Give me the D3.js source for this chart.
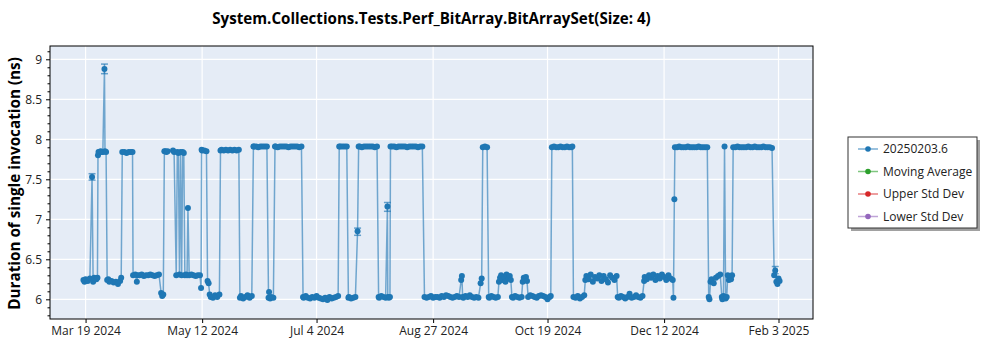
<!DOCTYPE html>
<html><head><meta charset="utf-8">
<script src="https://cdn.jsdelivr.net/npm/d3@7"></script>
<style>body{margin:0;background:#fff;} svg{display:block;font-family:"Open Sans","Noto Sans",sans-serif;}</style>
</head><body><svg id="c" width="1000" height="350"></svg>
<script>
const chartTitle = "System.Collections.Tests.Perf_BitArray.BitArraySet(Size: 4)";
const yTitle = "Duration of single invocation (ns)";
const legendNames = ["20250203.6", "Moving Average", "Upper Std Dev", "Lower Std Dev"];
const legendColors = ["#1f77b4", "#2ca02c", "#d62728", "#9467bd"];
const xTickDates = ["2024-03-19", "2024-05-12", "2024-07-04", "2024-08-27", "2024-10-19", "2024-12-12", "2025-02-03"];
const xTickLabels = ["Mar 19 2024", "May 12 2024", "Jul 4 2024", "Aug 27 2024", "Oct 19 2024", "Dec 12 2024", "Feb 3 2025"];
const yTicks = [6, 6.5, 7, 7.5, 8, 8.5, 9];
const yTickLabels = ["6", "6.5", "7", "7.5", "8", "8.5", "9"];

const dates = [
"2024-03-18","2024-03-18T12","2024-03-19","2024-03-20","2024-03-21","2024-03-22","2024-03-22T12","2024-03-23","2024-03-24","2024-03-24T12",
"2024-03-24T18","2024-03-25","2024-03-25T12","2024-03-26","2024-03-26T12","2024-03-27","2024-03-27T18","2024-03-28","2024-03-28T12",
"2024-03-29","2024-03-29T12","2024-03-30","2024-03-31","2024-04-01","2024-04-02","2024-04-03","2024-04-04","2024-04-04T12",
"2024-04-05","2024-04-06","2024-04-07","2024-04-08","2024-04-09","2024-04-09T18",
"2024-04-10","2024-04-11","2024-04-11T18","2024-04-12","2024-04-13","2024-04-14","2024-04-15","2024-04-16","2024-04-17","2024-04-18","2024-04-19","2024-04-20","2024-04-21","2024-04-22","2024-04-23","2024-04-23T12","2024-04-24",
"2024-04-24T12","2024-04-25","2024-04-25T12","2024-04-26","2024-04-28T12","2024-04-29","2024-04-30","2024-04-30T12","2024-05-01","2024-05-01T12","2024-05-02","2024-05-02T12","2024-05-03","2024-05-03T12",
"2024-05-04","2024-05-04T12","2024-05-05","2024-05-05T10","2024-05-06","2024-05-07","2024-05-08","2024-05-09","2024-05-10","2024-05-11","2024-05-11T12",
"2024-05-11T18","2024-05-12","2024-05-13","2024-05-14",
"2024-05-14T12","2024-05-15","2024-05-15T12","2024-05-16","2024-05-17","2024-05-18","2024-05-19","2024-05-20",
"2024-05-20T12","2024-05-21","2024-05-22","2024-05-23","2024-05-24","2024-05-25","2024-05-26","2024-05-27","2024-05-28","2024-05-29",
"2024-05-29T12","2024-05-30","2024-05-31","2024-06-01","2024-06-02","2024-06-03","2024-06-04",
"2024-06-04T18","2024-06-05","2024-06-06","2024-06-07","2024-06-08","2024-06-09","2024-06-10","2024-06-11",
"2024-06-11T18","2024-06-12","2024-06-12T12","2024-06-13","2024-06-14",
"2024-06-14T18","2024-06-15","2024-06-16","2024-06-17","2024-06-18","2024-06-19","2024-06-20","2024-06-21","2024-06-22","2024-06-23","2024-06-24","2024-06-25","2024-06-26","2024-06-27",
"2024-06-27T18","2024-06-28","2024-06-29","2024-06-30","2024-07-01","2024-07-02","2024-07-03","2024-07-04","2024-07-05","2024-07-06","2024-07-07","2024-07-08","2024-07-09","2024-07-10","2024-07-11","2024-07-12","2024-07-13","2024-07-14",
"2024-07-14T12","2024-07-15","2024-07-16","2024-07-17","2024-07-18",
"2024-07-18T18","2024-07-19","2024-07-20","2024-07-21","2024-07-22","2024-07-23",
"2024-07-23T12","2024-07-24","2024-07-25","2024-07-26","2024-07-27","2024-07-28","2024-07-29","2024-07-30","2024-07-31","2024-08-01",
"2024-08-01T18","2024-08-02","2024-08-03","2024-08-04","2024-08-05","2024-08-05T20","2024-08-06","2024-08-06T12","2024-08-07",
"2024-08-07T06","2024-08-08","2024-08-09","2024-08-10","2024-08-11","2024-08-12","2024-08-13","2024-08-14","2024-08-15","2024-08-16","2024-08-17","2024-08-18","2024-08-19","2024-08-20","2024-08-21","2024-08-22",
"2024-08-23","2024-08-24","2024-08-25","2024-08-26","2024-08-27","2024-08-28","2024-08-29","2024-08-30","2024-08-31","2024-09-01","2024-09-02","2024-09-03","2024-09-04","2024-09-05","2024-09-06","2024-09-07","2024-09-08","2024-09-09","2024-09-09T08","2024-09-09T16","2024-09-10","2024-09-11","2024-09-12","2024-09-13","2024-09-14","2024-09-15","2024-09-16","2024-09-17","2024-09-18","2024-09-18T12",
"2024-09-19","2024-09-20","2024-09-21",
"2024-09-21T18","2024-09-22","2024-09-23","2024-09-24","2024-09-25","2024-09-26",
"2024-09-26T12","2024-09-27","2024-09-27T12","2024-09-28","2024-09-29","2024-09-29T12","2024-09-30","2024-10-01","2024-10-01T12","2024-10-02",
"2024-10-02T12","2024-10-03","2024-10-04","2024-10-05","2024-10-06","2024-10-07",
"2024-10-07T12","2024-10-08","2024-10-08T12","2024-10-09","2024-10-09T12",
"2024-10-10","2024-10-11","2024-10-12","2024-10-13","2024-10-14","2024-10-15","2024-10-16","2024-10-17","2024-10-18","2024-10-19","2024-10-20","2024-10-20T12",
"2024-10-21","2024-10-22","2024-10-23","2024-10-24","2024-10-25","2024-10-26","2024-10-27","2024-10-28","2024-10-29","2024-10-30","2024-10-30T12",
"2024-10-31","2024-11-01","2024-11-02","2024-11-03","2024-11-04","2024-11-05",
"2024-11-05T12","2024-11-06","2024-11-07","2024-11-08","2024-11-09","2024-11-10","2024-11-11","2024-11-12","2024-11-13","2024-11-14","2024-11-15","2024-11-16","2024-11-17","2024-11-18","2024-11-19","2024-11-20",
"2024-11-20T12","2024-11-21","2024-11-22","2024-11-23","2024-11-24","2024-11-25","2024-11-26","2024-11-27","2024-11-28","2024-11-29","2024-11-30","2024-12-01","2024-12-02",
"2024-12-02T18","2024-12-03","2024-12-04","2024-12-05","2024-12-06","2024-12-07","2024-12-08","2024-12-09","2024-12-10","2024-12-11","2024-12-12","2024-12-13","2024-12-14","2024-12-15","2024-12-16",
"2024-12-16T08","2024-12-16T18",
"2024-12-17","2024-12-18","2024-12-19","2024-12-20","2024-12-21","2024-12-22","2024-12-23","2024-12-24","2024-12-25","2024-12-26","2024-12-27","2024-12-28","2024-12-29","2024-12-30","2024-12-31","2025-01-01",
"2025-01-01T16","2025-01-02",
"2025-01-02T12","2025-01-03","2025-01-04","2025-01-05","2025-01-06","2025-01-07",
"2025-01-07T18","2025-01-08","2025-01-08T12","2025-01-09","2025-01-09T12","2025-01-10",
"2025-01-10T12","2025-01-11","2025-01-11T12","2025-01-12","2025-01-12T12",
"2025-01-13","2025-01-14","2025-01-15","2025-01-16","2025-01-17","2025-01-18","2025-01-19","2025-01-20","2025-01-21","2025-01-22","2025-01-23","2025-01-24","2025-01-25","2025-01-26","2025-01-27","2025-01-28","2025-01-29","2025-01-30","2025-01-31",
"2025-02-01","2025-02-01T12","2025-02-02","2025-02-02T12","2025-02-03","2025-02-03T12"
];

const values = [
6.24,6.22,6.25,6.23,6.26,7.53,6.22,6.27,6.25,6.27,
7.80,7.84,7.84,7.85,7.84,7.84,8.88,7.85,7.84,
6.24,6.25,6.22,6.23,6.21,6.22,6.19,6.23,6.27,
7.84,7.84,7.83,7.84,7.84,7.84,
6.30,6.31,6.22,6.30,6.30,6.31,6.29,6.30,6.30,6.31,6.30,6.29,6.30,6.31,6.08,6.04,6.06,
7.85,7.85,7.84,7.85,7.86,7.84,6.30,7.84,7.83,6.31,7.84,6.30,7.84,7.83,
6.30,6.31,6.30,7.14,6.30,6.31,6.30,6.29,6.30,6.30,6.14,
7.87,7.86,7.86,7.85,
6.23,6.20,6.06,6.03,6.02,6.05,6.03,6.06,
7.86,7.87,7.86,7.87,7.86,7.87,7.86,7.87,7.86,7.87,
6.02,6.04,6.01,6.03,6.05,6.02,6.04,
7.91,7.91,7.91,7.90,7.91,7.91,7.91,7.91,
6.02,6.09,6.01,6.03,6.02,
7.91,7.91,7.90,7.91,7.91,7.91,7.91,7.90,7.91,7.91,7.91,7.91,7.90,7.91,
6.03,6.02,6.04,6.02,6.01,6.03,6.02,6.04,6.02,6.01,6.00,6.02,5.99,6.03,6.01,6.02,6.03,6.04,
7.91,7.91,7.91,7.91,7.91,
6.02,6.03,6.01,6.02,6.03,6.85,
7.91,7.91,7.90,7.91,7.91,7.91,7.91,7.91,7.90,7.91,
6.03,6.02,6.04,6.03,6.02,7.16,6.03,6.02,6.03,
7.91,7.91,7.91,7.90,7.91,7.91,7.91,7.91,7.90,7.91,7.91,7.91,7.91,7.90,7.91,7.91,
6.03,6.02,6.03,6.04,6.02,6.03,6.03,6.02,6.04,6.03,6.05,6.04,6.03,6.02,6.03,6.04,6.03,6.24,6.29,6.03,6.02,6.04,6.03,6.05,6.03,6.02,6.03,6.02,6.20,6.26,
7.90,7.91,7.90,
6.03,6.02,6.04,6.03,6.02,6.03,
6.22,6.27,6.30,6.24,6.28,6.22,6.31,6.26,6.29,6.24,
6.03,6.02,6.04,6.03,6.02,6.03,
6.22,6.27,6.24,6.28,6.23,
6.03,6.05,6.04,6.03,6.02,6.04,6.05,6.04,6.03,6.00,6.03,6.04,
7.90,7.91,7.90,7.90,7.91,7.90,7.90,7.91,7.90,7.90,7.91,
6.03,6.02,6.04,6.01,6.03,6.05,
6.24,6.29,6.25,6.31,6.22,6.28,6.26,6.30,6.23,6.29,6.25,6.21,6.30,6.27,6.24,6.29,
6.03,6.02,6.04,6.03,6.01,6.03,6.07,6.02,6.03,6.05,6.03,6.02,6.04,
6.23,6.28,6.25,6.30,6.27,6.31,6.24,6.29,6.26,6.31,6.28,6.24,6.30,6.26,6.24,
6.02,7.25,
7.90,7.90,7.91,7.90,7.90,7.90,7.91,7.90,7.90,7.90,7.90,7.91,7.90,7.90,7.90,7.90,
6.03,6.00,
6.22,6.25,6.20,6.27,6.29,6.31,
6.03,6.00,6.04,7.91,6.01,6.03,
6.30,6.24,6.28,6.25,6.30,
7.90,7.90,7.91,7.90,7.90,7.90,7.90,7.91,7.90,7.90,7.91,7.90,7.90,7.90,7.91,7.90,7.90,7.90,7.89,
6.30,6.36,6.22,6.19,6.26,6.23
];

const errDates = ["2024-03-22", "2024-03-27T18", "2024-07-23", "2024-08-05T20", "2025-02-01T12"];
const errLow  = [7.49, 8.82, 6.80, 7.10, 6.32];
const errHigh = [7.57, 8.94, 6.89, 7.21, 6.41];

const svg = d3.select("#c");
const L = 50, R = 813, T = 46, B = 319;
const pF = d3.utcParse("%Y-%m-%dT%H"), pD = d3.utcParse("%Y-%m-%d");
const parse = s => s.length > 10 ? pF(s) : pD(s);
const pts = dates.map((d, i) => ({ t: parse(d), v: values[i] }));
const ext = d3.extent(pts, p => p.t);
const span = ext[1] - ext[0];
const x = d3.scaleUtc().domain([new Date(+ext[0] - span * 0.048), new Date(+ext[1] + span * 0.048)]).range([L, R]);
const y = d3.scaleLinear().domain([5.754, 9.166]).range([B, T]);
const blue = "#1f77b4";

svg.append("rect").attr("x", L).attr("y", T).attr("width", R - L).attr("height", B - T).attr("fill", "#e5ecf6");

const g = svg.append("g");
g.selectAll(".vg").data(xTickDates).join("line")
  .attr("x1", d => x(parse(d))).attr("x2", d => x(parse(d))).attr("y1", T).attr("y2", B)
  .attr("stroke", "#fff").attr("stroke-width", 1.2);
g.selectAll(".hg").data(yTicks).join("line")
  .attr("x1", L).attr("x2", R).attr("y1", d => y(d)).attr("y2", d => y(d))
  .attr("stroke", "#fff").attr("stroke-width", 1.2);

const clip = svg.append("clipPath").attr("id", "clp").append("rect").attr("x", L).attr("y", T).attr("width", R - L).attr("height", B - T);
const pg = svg.append("g").attr("clip-path", "url(#clp)");

pg.append("path").datum(pts)
  .attr("d", d3.line().x(p => x(p.t)).y(p => y(p.v)))
  .attr("fill", "none").attr("stroke", blue).attr("stroke-opacity", 0.6).attr("stroke-width", 1.5);

const errs = errDates.map((d, i) => ({ t: parse(d), lo: errLow[i], hi: errHigh[i] }));
const eg = pg.append("g").attr("stroke", blue).attr("stroke-opacity", 0.65).attr("stroke-width", 1.5);
errs.forEach(e => {
  const cx = x(e.t);
  eg.append("line").attr("x1", cx).attr("x2", cx).attr("y1", y(e.lo)).attr("y2", y(e.hi));
  eg.append("line").attr("x1", cx - 3.5).attr("x2", cx + 3.5).attr("y1", y(e.lo)).attr("y2", y(e.lo));
  eg.append("line").attr("x1", cx - 3.5).attr("x2", cx + 3.5).attr("y1", y(e.hi)).attr("y2", y(e.hi));
});

pg.selectAll("circle").data(pts).join("circle")
  .attr("cx", p => x(p.t)).attr("cy", p => y(p.v)).attr("r", 3).attr("fill", blue);

svg.append("rect").attr("x", L).attr("y", T).attr("width", R - L).attr("height", B - T)
  .attr("fill", "none").attr("stroke", "#000").attr("stroke-width", 1);

// axes
const xa = svg.append("g").attr("transform", `translate(0,${B})`)
  .call(d3.axisBottom(x).tickValues(xTickDates.map(parse)).tickFormat((d, i) => xTickLabels[i]).tickSize(4).tickPadding(3));
xa.select(".domain").remove();
xa.selectAll("line").attr("stroke", "#000");
xa.selectAll("text").attr("font-size", 12).attr("fill", "#222").attr("font-family", "Open Sans, Noto Sans, sans-serif");

const minorVals = d3.range(58, 92).map(v => v / 10).filter(v => v >= 5.754 && v <= 9.166 && !yTicks.includes(v));
const ym = svg.append("g").attr("transform", `translate(${L},0)`)
  .call(d3.axisLeft(y).tickValues(minorVals).tickFormat("").tickSize(2.5));
ym.select(".domain").remove();
ym.selectAll("line").attr("stroke", "#000");
const ya = svg.append("g").attr("transform", `translate(${L},0)`)
  .call(d3.axisLeft(y).tickValues(yTicks).tickFormat((d, i) => yTickLabels[i]).tickSize(4).tickPadding(4));
ya.select(".domain").remove();
ya.selectAll("line").attr("stroke", "#000");
ya.selectAll("text").attr("font-size", 12).attr("fill", "#222").attr("font-family", "Open Sans, Noto Sans, sans-serif");

function fit(sel, w) {
  const cur = sel.node().getComputedTextLength();
  const fs = parseFloat(sel.attr("font-size"));
  if (cur > 0) sel.attr("font-size", fs * w / cur);
}

const tt = svg.append("text").attr("x", (L + R) / 2).attr("y", 24).attr("text-anchor", "middle")
  .attr("font-weight", "bold").attr("font-size", 15).attr("fill", "#000").text(chartTitle);
fit(tt, 439);

const yl = svg.append("text").attr("transform", `translate(20,${(57 + 310) / 2}) rotate(-90)`)
  .attr("text-anchor", "middle").attr("font-weight", "bold").attr("font-size", 16).attr("fill", "#000").text(yTitle);
fit(yl, 253);

// legend
const lg = svg.append("g");
lg.append("rect").attr("x", 851).attr("y", 140).attr("width", 129).attr("height", 91).attr("fill", "#8a8a8a").attr("opacity", 0.8);
lg.append("rect").attr("x", 848).attr("y", 137).attr("width", 129).attr("height", 91).attr("fill", "#fff").attr("stroke", "#333").attr("stroke-width", 1);
legendNames.forEach((n, i) => {
  const ry = 149 + i * 22.5;
  lg.append("line").attr("x1", 858).attr("x2", 878).attr("y1", ry).attr("y2", ry)
    .attr("stroke", legendColors[i]).attr("stroke-opacity", 0.6).attr("stroke-width", 1.5);
  lg.append("circle").attr("cx", 868).attr("cy", ry).attr("r", 2.8).attr("fill", legendColors[i]);
  lg.append("text").attr("x", 883).attr("y", ry).attr("dy", "0.35em").attr("font-size", 12).attr("fill", "#222").text(n);
});
</script></body></html>
